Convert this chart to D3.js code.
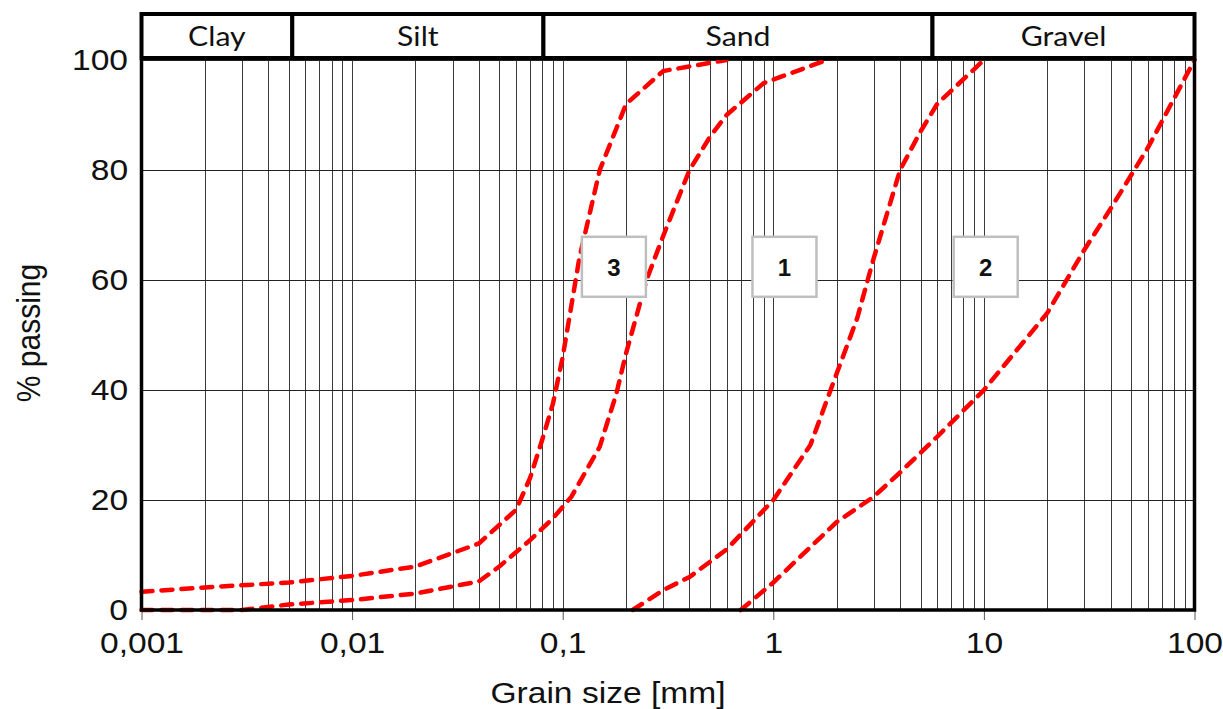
<!DOCTYPE html>
<meta charset="utf-8">
<style>
body { margin: 0; background: #fff; }
text { font-family: "Liberation Sans", Arial, sans-serif; fill: #111; }
.zone text { font-family: Lato, "Open Sans", sans-serif; }
</style>
<body>
<script src="https://d3js.org/d3.v7.min.js"></script>
<script>

// soil zones along the top
var zoneNames = ["Clay", "Silt", "Sand", "Gravel"];
var zoneBounds = [0.001, 0.0052, 0.081, 5.7, 100];

// axes
var xTicks = [0.001, 0.01, 0.1, 1, 10, 100];
var xTickLabels = ["0,001", "0,01", "0,1", "1", "10", "100"];
var yTicks = [0, 20, 40, 60, 80, 100];

// grading curves (grain size mm, % passing)
var fineSize = [0.001, 0.002, 0.005, 0.01, 0.02, 0.04, 0.06, 0.07, 0.08, 0.09, 0.1, 0.12, 0.15, 0.2, 0.3, 0.6];
var finePass = [3.3, 4.1, 5, 6.2, 7.9, 12.1, 18.2, 24, 31, 37.6, 46, 64, 80, 92, 98, 100];

var siltySize = [0.001, 0.003, 0.005, 0.01, 0.02, 0.04, 0.05, 0.07, 0.09, 0.11, 0.15, 0.18, 0.2, 0.25, 0.3, 0.4, 0.5, 0.6, 0.9, 1.8];
var siltyPass = [0, 0, 1, 1.8, 3, 5.2, 7.9, 12.7, 16.7, 20.6, 29.7, 39.4, 46.7, 60, 68, 80, 86, 90, 95.8, 100];

var sandSize = [0.215, 0.3, 0.4, 0.6, 1, 1.5, 2, 2.5, 3, 4, 5, 6, 10];
var sandPass = [0, 3.6, 6, 11, 20, 30, 43, 53, 64, 80, 87, 92, 100];

var gravelSize = [0.7, 1, 2, 3, 4, 6, 10, 20, 30, 40, 60, 100];
var gravelPass = [0, 5, 16, 20.6, 25, 31.5, 40, 54, 65.5, 73, 84, 100];

// numbered labels on the chart
var tagText = ["3", "1", "2"];
var tagSize = [0.175, 1.13, 10.2];
var tagPass = [62.4, 62.4, 62.4];

var W = 1223, H = 709;
var stretch = "scale(1.12,1)";

var svg = d3.select("body").append("svg")
    .attr("width", W)
    .attr("height", H);

var x = d3.scaleLog().domain([0.001, 100]).range([141.5, 1194.5]);
var y = d3.scaleLinear().domain([0, 100]).range([610, 60]);

// minor + major vertical grid
var gridX = [];
for (var e = -3; e < 2; e++) {
    for (var k = 1; k < 10; k++) gridX.push(k * Math.pow(10, e));
}
gridX.push(100);

svg.append("g").selectAll("line")
    .data(gridX)
  .enter().append("line")
    .attr("x1", function(d) { return Math.round(x(d)) + 0.5; })
    .attr("x2", function(d) { return Math.round(x(d)) + 0.5; })
    .attr("y1", y(100))
    .attr("y2", y(0))
    .attr("stroke", "#3a3a3a")
    .attr("stroke-width", 1);

svg.append("g").selectAll("line")
    .data(yTicks)
  .enter().append("line")
    .attr("x1", x(0.001))
    .attr("x2", x(100))
    .attr("y1", function(d) { return Math.round(y(d)) + 0.5; })
    .attr("y2", function(d) { return Math.round(y(d)) + 0.5; })
    .attr("stroke", "#222")
    .attr("stroke-width", 1);

// x axis ticks + labels
var xAxis = d3.axisBottom(x)
    .tickValues(xTicks)
    .tickFormat(function(d, i) { return xTickLabels[i]; })
    .tickSize(10)
    .tickPadding(12);

var gx = svg.append("g")
    .attr("transform", "translate(0," + y(0) + ")")
    .call(xAxis);
gx.select(".domain").remove();
gx.selectAll(".tick line").attr("stroke", "#555");
gx.selectAll(".tick text")
    .attr("font-size", 30)
    .attr("font-family", "Liberation Sans, Arial, sans-serif")
    .attr("fill", "#111")
    .attr("transform", stretch);

var yAxis = d3.axisLeft(y)
    .tickValues(yTicks)
    .tickSize(0)
    .tickPadding(12);

var gy = svg.append("g")
    .attr("transform", "translate(" + x(0.001) + ",0)")
    .call(yAxis);
gy.select(".domain").remove();
gy.selectAll(".tick text")
    .attr("font-size", 30)
    .attr("font-family", "Liberation Sans, Arial, sans-serif")
    .attr("fill", "#111")
    .attr("transform", stretch);

// curves
var line = d3.line()
    .x(function(d) { return x(d[0]); })
    .y(function(d) { return y(d[1]); });

var curves = [
    d3.zip(fineSize, finePass),
    d3.zip(siltySize, siltyPass),
    d3.zip(sandSize, sandPass),
    d3.zip(gravelSize, gravelPass)
];

svg.append("g").selectAll("path")
    .data(curves)
  .enter().append("path")
    .attr("d", line)
    .attr("fill", "none")
    .attr("stroke", "#ff0000")
    .attr("stroke-width", 4.5)
    .attr("stroke-linecap", "round")
    .attr("stroke-dasharray", "11,9");

// plot frame (thick left, bottom, right)
svg.append("path")
    .attr("d", "M" + x(0.001) + "," + y(100) + "V" + y(0) + "H" + x(100) + "V" + y(100))
    .attr("fill", "none")
    .attr("stroke", "#000")
    .attr("stroke-width", 3.5);

// zone header boxes
var zoneTop = 14, zoneBottom = 58;
var zones = svg.append("g").attr("class", "zone")
    .selectAll("g")
    .data(zoneNames)
  .enter().append("g");

zones.append("rect")
    .attr("x", function(d, i) { return x(zoneBounds[i]); })
    .attr("y", zoneTop)
    .attr("width", function(d, i) { return x(zoneBounds[i + 1]) - x(zoneBounds[i]); })
    .attr("height", zoneBottom - zoneTop)
    .attr("fill", "#fff")
    .attr("stroke", "#000")
    .attr("stroke-width", 4);

zones.append("text")
    .attr("transform", function(d, i) {
        var cx = (x(zoneBounds[i]) + x(zoneBounds[i + 1])) / 2;
        return "translate(" + cx + ",46) " + stretch;
    })
    .attr("text-anchor", "middle")
    .attr("font-size", 27)
    .text(function(d) { return d; });

// numbered tags
var tags = svg.append("g").selectAll("g")
    .data(tagText)
  .enter().append("g")
    .attr("transform", function(d, i) {
        return "translate(" + x(tagSize[i]) + "," + y(tagPass[i]) + ")";
    });

tags.append("rect")
    .attr("x", -32)
    .attr("y", -30)
    .attr("width", 64)
    .attr("height", 60)
    .attr("fill", "#fff")
    .attr("stroke", "#bfbfbf")
    .attr("stroke-width", 2.5);

tags.append("text")
    .attr("text-anchor", "middle")
    .attr("y", 9)
    .attr("font-size", 24)
    .attr("font-weight", "bold")
    .text(function(d) { return d; });

// axis titles
svg.append("text")
    .attr("transform", "translate(608,703) " + stretch)
    .attr("text-anchor", "middle")
    .attr("font-size", 30)
    .text("Grain size [mm]");

svg.append("text")
    .attr("transform", "translate(40,333) rotate(-90) scale(1,1.12)")
    .attr("text-anchor", "middle")
    .attr("font-size", 30)
    .text("% passing");

</script>
</body>
